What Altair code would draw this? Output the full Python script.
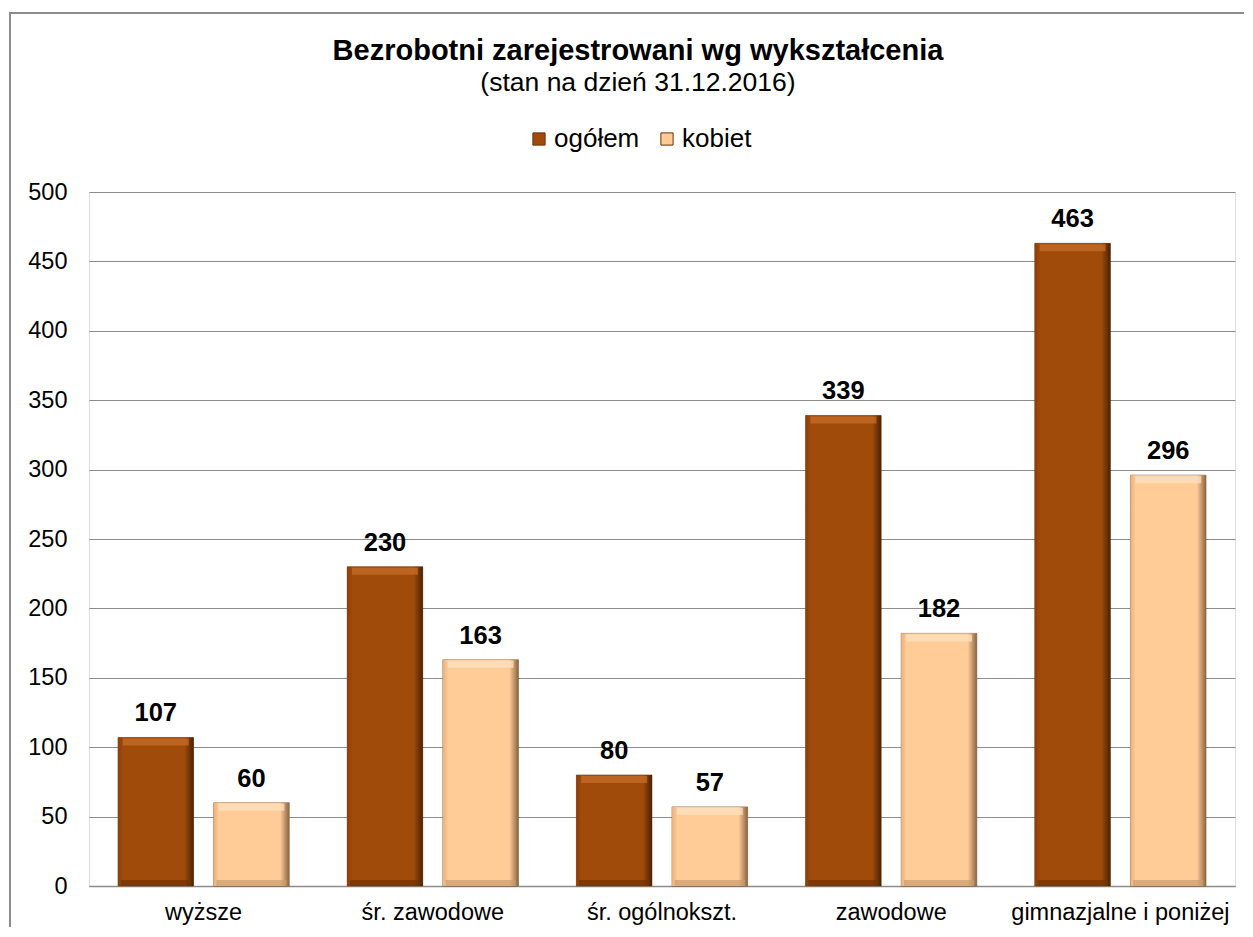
import altair as alt
import pandas as pd

categories = ["wyższe", "śr. zawodowe", "śr. ogólnokszt.", "zawodowe", "gimnazjalne i poniżej"]
series = ["ogółem", "kobiet"]
ogolem = [107, 230, 80, 339, 463]
kobiet = [60, 163, 57, 182, 296]
y_ticks = [0, 50, 100, 150, 200, 250, 300, 350, 400, 450, 500]

title_text = "Bezrobotni zarejestrowani wg wykształcenia"
subtitle_text = "(stan na dzień 31.12.2016)"

rows = []
for c, a, b in zip(categories, ogolem, kobiet):
    rows.append({"kat": c, "seria": series[0], "wartosc": a})
    rows.append({"kat": c, "seria": series[1], "wartosc": b})
df = pd.DataFrame(rows)

FONT = "Liberation Sans"
W, H = 1146, 694
DARK = "#A14B0B"
LIGHT = "#FFCB97"

x_enc = alt.X("kat:N", sort=categories, title=None,
              scale=alt.Scale(paddingInner=0.253, paddingOuter=0.1265),
              axis=alt.Axis(labelAngle=0, labelFontSize=23.5, labelFont=FONT, labelColor="black",
                            labelPadding=14, labelLimit=0, ticks=False, domainColor="#8C8C8C",
                            domainWidth=1.5))
xo_enc = alt.XOffset("seria:N", sort=series, scale=alt.Scale(paddingInner=0.21, paddingOuter=0))
y_enc = alt.Y("wartosc:Q", title=None,
              scale=alt.Scale(domain=[0, 500], nice=False),
              axis=alt.Axis(values=y_ticks, labelFontSize=23.5, labelFont=FONT, labelColor="black",
                            labelPadding=22, ticks=False, domain=False, gridColor="#8C8C8C",
                            gridWidth=1.2))

base = alt.Chart(df)

bars = base.mark_bar(stroke="#5A2A06", strokeWidth=1, strokeOpacity=0.5).encode(
    x=x_enc, xOffset=xo_enc, y=y_enc,
    color=alt.Color("seria:N", sort=series,
                    scale=alt.Scale(domain=series, range=[DARK, LIGHT]),
                    legend=alt.Legend(title=None, orient="none", direction="horizontal",
                                      legendX=437, legendY=-66, symbolType="square",
                                      symbolSize=150, symbolStrokeColor="#6B3008",
                                      symbolStrokeWidth=1, labelFontSize=26, labelFont=FONT,
                                      labelColor="black", columnPadding=14, labelOffset=2)),
)

def grad(c_edge, c_main, c_dark):
    return alt.LinearGradient(gradient="linear", x1=0, x2=1, y1=0, y2=0,
                              stops=[alt.GradientStop(offset=0, color=c_edge),
                                     alt.GradientStop(offset=0.07, color=c_main),
                                     alt.GradientStop(offset=0.88, color=c_main),
                                     alt.GradientStop(offset=1, color=c_dark)])

shade_o = base.transform_filter(alt.datum.seria == series[0]).mark_bar(
    color=grad("#8A3E08", DARK, "#4A2204")).encode(x=x_enc, xOffset=xo_enc, y=y_enc)
shade_k = base.transform_filter(alt.datum.seria == series[1]).mark_bar(
    color=grad("#E8B07C", LIGHT, "#8A6540")).encode(x=x_enc, xOffset=xo_enc, y=y_enc)

top_o = base.transform_filter(alt.datum.seria == series[0]).mark_tick(
    color="#C9702A", thickness=7, size=66, yOffset=4.5).encode(x=x_enc, xOffset=xo_enc, y=y_enc)
top_k = base.transform_filter(alt.datum.seria == series[1]).mark_tick(
    color="#FFE3C3", thickness=7, size=66, yOffset=4.5).encode(x=x_enc, xOffset=xo_enc, y=y_enc)

bot_o = base.transform_filter(alt.datum.seria == series[0]).mark_tick(
    color="#6E3306", thickness=6, size=70, yOffset=-3).encode(
    x=x_enc, xOffset=xo_enc, y=alt.datum(0))
bot_k = base.transform_filter(alt.datum.seria == series[1]).mark_tick(
    color="#C99B6E", thickness=6, size=70, yOffset=-3).encode(
    x=x_enc, xOffset=xo_enc, y=alt.datum(0))

labels = base.mark_text(fontSize=25.5, fontWeight="bold", font=FONT, color="black",
                        baseline="bottom", dy=-11).encode(
    x=x_enc, xOffset=xo_enc, y=y_enc, text=alt.Text("wartosc:Q"))

one = pd.DataFrame({"a": [0]})
titles = alt.Chart(one).mark_text(fontSize=29, fontWeight="bold", font=FONT, color="black",
                                  align="center", baseline="middle").encode(
    x=alt.value(549), y=alt.value(-141), text=alt.value(title_text))
subtitle = alt.Chart(one).mark_text(fontSize=26.5, font=FONT, color="black",
                                    align="center", baseline="middle").encode(
    x=alt.value(549), y=alt.value(-109), text=alt.value(subtitle_text))
frame_top = alt.Chart(one).mark_rule(color="#8C8C8C", strokeWidth=2).encode(
    x=alt.value(-80), x2=alt.value(1155), y=alt.value(-179))
frame_left = alt.Chart(one).mark_rule(color="#8C8C8C", strokeWidth=2).encode(
    x=alt.value(-79), y=alt.value(-180), y2=alt.value(735))

chart = alt.layer(frame_top, frame_left, titles, subtitle, bars, shade_o, shade_k,
                  top_o, top_k, bot_o, bot_k, labels).properties(
    width=W, height=H, padding={"left": 0, "top": 3, "right": 0, "bottom": 0}
).configure_view(stroke=None).configure(font=FONT, background="white")

chart.save("out.html", embed_options={"renderer": "svg", "actions": False})
